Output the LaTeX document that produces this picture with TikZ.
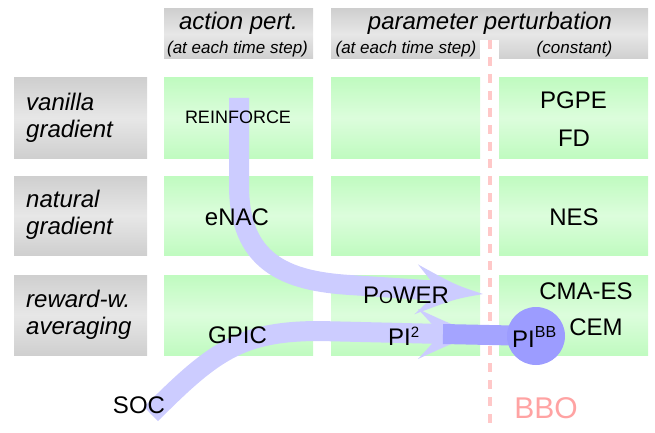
\documentclass[tikz,border=0pt]{standalone}
\usepackage{fontspec}
\setmainfont{Liberation Sans}
\usepackage{tikz}
\usetikzlibrary{calc}
\usepackage{xcolor}
\definecolor{lav}{HTML}{CCCCFF}
\definecolor{lavdark}{HTML}{A4A4FF}
\definecolor{lavball}{HTML}{9C9CFF}
\definecolor{cellgreen}{HTML}{C0FBC0}
\definecolor{cellmid}{HTML}{DCFDDC}
\definecolor{boxgray}{HTML}{CFCFCF}
\definecolor{boxmid}{HTML}{E7E7E7}
\definecolor{bbopink}{HTML}{FFA3A3}
\definecolor{dashpink}{HTML}{FFC8C8}

\begin{document}
\begin{tikzpicture}[
  x=1pt,y=-1pt,
  cell/.style={top color=cellgreen,bottom color=cellgreen,middle color=cellmid},
  greybox/.style={top color=boxgray,bottom color=boxgray,middle color=boxmid},
  algo/.style={inner sep=0pt,anchor=base,font=\fontsize{24}{27}\selectfont},
  head/.style={inner sep=0pt,anchor=base,font=\fontsize{24}{27}\selectfont\itshape},
  subhead/.style={inner sep=0pt,anchor=base,font=\fontsize{17}{20}\selectfont\itshape},
  rowlabel/.style={inner sep=0pt,anchor=north west,align=left,font=\fontsize{24}{27}\selectfont\itshape},
  shaft/.style={draw=lav,line width=20pt},
  ball/.style={circle,fill=lavball,inner sep=0pt,minimum size=58pt},
  bigtip/.pic={\fill[lav] (0,0) .. controls (-28,-7) .. (-67,-25) -- (-44,0) -- (-67,25) .. controls (-28,7) .. (0,0);}
  ]
\useasboundingbox (0,0) rectangle (655,433);
\def\colA{164}  \def\colAr{313}
\def\colB{331}  \def\colBr{480}
\def\colC{499}  \def\colCr{648}
% header boxes
\shade[greybox] (\colA,9) rectangle (\colAr,59);
\shade[greybox] (\colB,9) rectangle (\colCr,59);
% row label boxes
\shade[greybox] (14,78) rectangle (147,158);
\shade[greybox] (14,176) rectangle (147,255);
\shade[greybox] (14,275) rectangle (147,355);
% cells
\shade[cell] (\colA,78) rectangle (\colAr,158);
\shade[cell] (\colB,78) rectangle (\colBr,158);
\shade[cell] (\colC,78) rectangle (\colCr,158);
\shade[cell] (\colA,176) rectangle (\colAr,255);
\shade[cell] (\colB,176) rectangle (\colBr,255);
\shade[cell] (\colC,176) rectangle (\colCr,255);
\shade[cell] (\colA,275) rectangle (\colAr,355);
\shade[cell] (\colB,275) rectangle (\colBr,355);
\shade[cell] (\colC,275) rectangle (\colCr,355);
% BBO border
\fill[white] (\colBr,40) rectangle (\colC,60);
\draw[dashpink,line width=4.5pt,dash pattern=on 9pt off 8pt] (490,40) -- (490,427);
\coordinate (reintail) at (239,98);    % top of the REINFORCE arrow
\coordinate (powertip) at (483,294);   % tip at PoWER
\coordinate (soctail) at (151,414);    % foot of the SOC arrow
\coordinate (pitwotip) at (485,334);   % tip at PI^2
\coordinate (bbcentre) at (536,336);   % PI^BB
\draw[shaft] (reintail) -- (239,185) .. controls (239,262) and (285,281) .. (350,285) -- ($(powertip)+(-42,-3)$);
\pic[rotate=-4] at (powertip) {bigtip};
\draw[shaft] (soctail) .. controls (213,352) and (240,331) .. (320,331) -- ($(pitwotip)+(-42,0)$);
\pic at (pitwotip) {bigtip};
\draw[lavdark,line width=20pt] ($(pitwotip)+(-42,0)$) -- (bbcentre);
\node[ball] (pibb) at (bbcentre) {};
% headers
\node[head] (actpert) at (238.5,30) {action pert.};
\node[subhead] (actstep) at (237.5,53.5) {(at each time step)};
\node[head] (parpert) at (490,30) {parameter perturbation};
\node[subhead] (parstep) at (406,53.5) {(at each time step)};
\node[subhead] (constant) at (574.5,53.5) {(constant)};
% row labels
\node[rowlabel] (vanilla) at (26,93) {vanilla\\gradient};
\node[rowlabel] (natural) at (26,190) {natural\\gradient};
\node[rowlabel] (reward) at (26,290) {reward-w.\\averaging};
% algorithms
\node[algo,font=\fontsize{18}{20}\selectfont] (reinforce) at (238,124) {REINFORCE};
\node[algo] (pgpe) at (573.5,108.3) {PGPE};
\node[algo] (fd) at (574,146.5) {FD};
\node[algo] (enac) at (237,225.7) {eNAC};
\node[algo] (nes) at (574,225.3) {NES};
\node[algo] (cmaes) at (586,299.2) {CMA-ES};
\node[algo] (cem) at (596,335.8) {CEM};
\node[algo] (power) at (406,303.3) {P{\fontsize{18}{18}\selectfont O}WER};
\node[algo,anchor=base west] (gpic) at (208,343.3) {GPIC};
\node[algo,anchor=base west] (pitwo) at (388,345) {PI\raisebox{7.5pt}{\fontsize{15}{15}\selectfont 2}};
\node[algo,anchor=base west] (pibbtext) at (512,347) {PI\raisebox{9.5pt}{\fontsize{16}{16}\selectfont BB}};
\node[algo] (soc) at (139,413.3) {SOC};
\node[algo,font=\fontsize{30}{32}\selectfont,text=bbopink] (bbo) at (546,418.7) {BBO};
\end{tikzpicture}
\end{document}
